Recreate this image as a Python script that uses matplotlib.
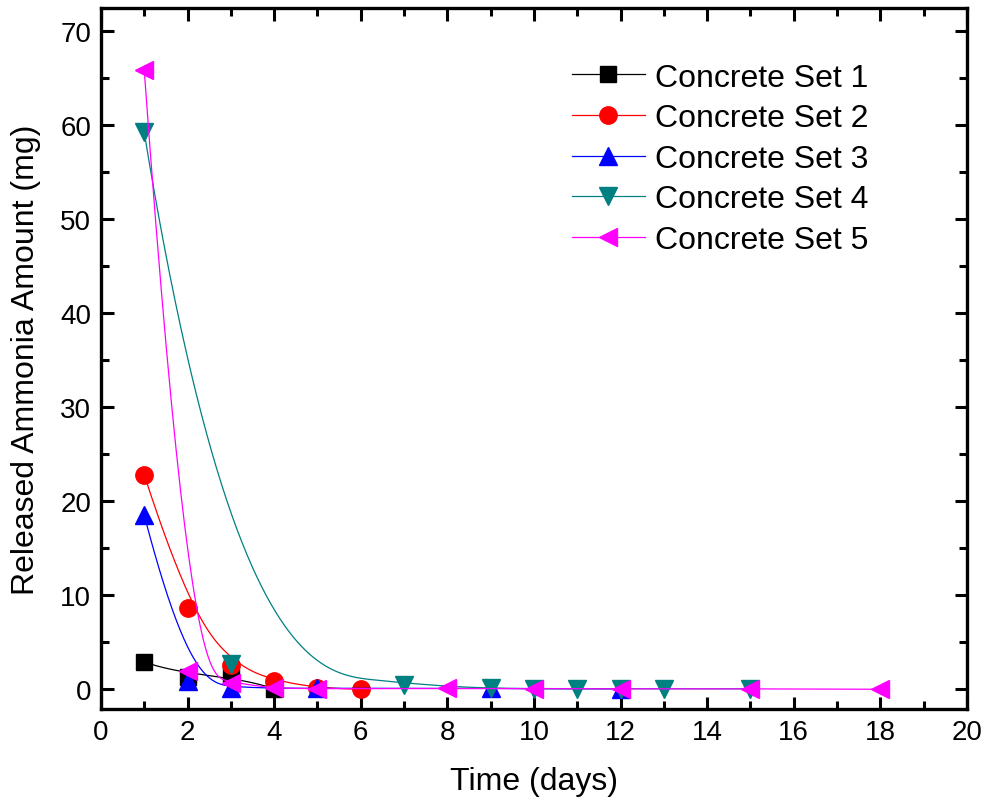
import numpy as np
import matplotlib
matplotlib.use("Agg")
import matplotlib.pyplot as plt

plt.rcParams['font.family'] = ['Liberation Sans', 'DejaVu Sans']

# released ammonia per concrete set (mg) vs. time (days)
set1_t = [1, 2, 3, 4]
set1_v = [2.9, 1.3, 1.6, 0.05]
set2_t = [1, 2, 3, 4, 5, 6]
set2_v = [22.8, 8.6, 2.6, 0.9, 0.1, 0.0]
set3_t = [1, 2, 3, 5, 9, 12]
set3_v = [18.5, 0.9, 0.1, 0.1, 0.1, 0.05]
set4_t = [1, 3, 7, 9, 10, 11, 12, 13, 15]
set4_v = [59.2, 2.7, 0.5, 0.1, 0.05, 0.05, 0.05, 0.05, 0.05]
set5_t = [1, 2, 3, 4, 5, 8, 10, 12, 15, 18]
set5_v = [65.8, 1.95, 0.7, 0.1, 0.05, 0.1, 0.05, 0.05, 0.05, 0.0]

labels = ["Concrete Set 1", "Concrete Set 2", "Concrete Set 3",
          "Concrete Set 4", "Concrete Set 5"]
colors = ["#000000", "#FF0000", "#0000FF", "#008080", "#FF00FF"]
markers = ["s", "o", "^", "v", "<"]
msizes = [11, 12.5, 13, 13, 13]


def bspline(xs, ys, k=3, num=300):
    # clamped uniform B-spline, points used as control polygon
    P = np.column_stack([xs, ys]).astype(float)
    n = len(P)
    k = min(k, n - 1)
    knots = np.concatenate([np.zeros(k), np.arange(n - k + 1), np.full(k, n - k)]).astype(float)
    u = np.linspace(0, n - k, num)
    u[-1] -= 1e-9
    # Cox-de Boor basis
    N = np.zeros((num, len(knots) - 1))
    for i in range(len(knots) - 1):
        N[:, i] = (u >= knots[i]) & (u < knots[i + 1])
    for d in range(1, k + 1):
        Nn = np.zeros((num, len(knots) - 1 - d))
        for i in range(len(knots) - 1 - d):
            a = knots[i + d] - knots[i]
            b = knots[i + d + 1] - knots[i + 1]
            t1 = (u - knots[i]) / a * N[:, i] if a > 0 else 0
            t2 = (knots[i + d + 1] - u) / b * N[:, i + 1] if b > 0 else 0
            Nn[:, i] = t1 + t2
        N = Nn
    C = N @ P
    return C[:, 0], C[:, 1]


fig = plt.figure(figsize=(9.84, 8.04), dpi=100)
ax = fig.add_axes([0.1026, 0.1169, 0.8801, 0.8715])

series = [(set1_t, set1_v), (set2_t, set2_v), (set3_t, set3_v),
          (set4_t, set4_v), (set5_t, set5_v)]
for (t, v), lab, c, m, ms in zip(series, labels, colors, markers, msizes):
    cx, cy = bspline(t, v)
    ax.plot(cx, cy, color=c, lw=0.9)
    ax.plot(t, v, linestyle='none', marker=m, color=c, ms=ms, mec=c)
    # proxy for the legend entry (line through marker)
    ax.plot([], [], color=c, lw=0.9, marker=m, ms=ms, label=lab)

ax.set_xlim(0, 20)
ax.set_ylim(-2.1, 72.4)
ax.set_xticks(np.arange(0, 21, 2))
ax.set_xticks(np.arange(0, 21, 1), minor=True)
ax.set_yticks(np.arange(0, 71, 10))
ax.set_yticks(np.arange(0, 71, 5), minor=True)

ax.tick_params(which='both', direction='in', top=True, right=True, width=2.2,
               labelsize=20, pad=7)
ax.tick_params(which='major', length=9)
ax.tick_params(which='minor', length=5.5)
for s in ax.spines.values():
    s.set_linewidth(2.4)

ax.set_xlabel("Time (days)", fontsize=23, labelpad=15)
ax.set_ylabel("Released Ammonia Amount (mg)", fontsize=23, labelpad=14)

ax.legend(loc='upper left', bbox_to_anchor=(0.544, 0.9225), frameon=False,
          fontsize=23, handlelength=2.28, handletextpad=0.31,
          labelspacing=0.33, borderpad=0, borderaxespad=0, numpoints=1)

fig.savefig("out.png", dpi=100)
